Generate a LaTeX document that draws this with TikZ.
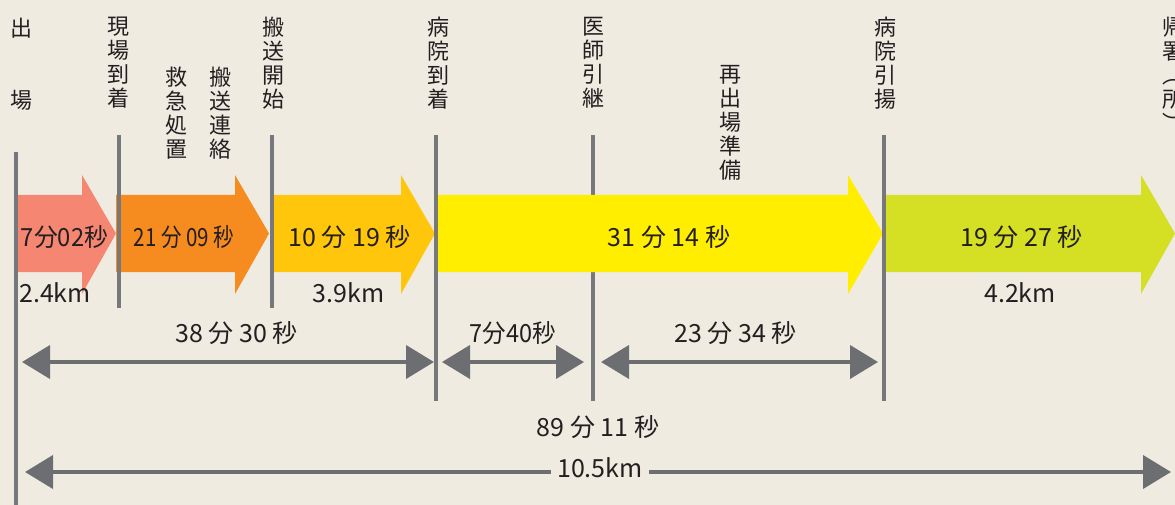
\documentclass[tikz,border=0pt]{standalone}
\usepackage{fontspec}
\setmainfont{Noto Sans CJK JP}
\usetikzlibrary{arrows.meta}
\definecolor{bgc}{HTML}{EFEBE1}
\definecolor{salmon}{HTML}{F48672}
\definecolor{orangeA}{HTML}{F68B1F}
\definecolor{amber}{HTML}{FFC60B}
\definecolor{yellowA}{HTML}{FFEE00}
\definecolor{limeA}{HTML}{D5DF23}
\definecolor{tickgray}{HTML}{77787B}
\definecolor{dimgray}{HTML}{6D6E71}
\definecolor{txt}{HTML}{231F20}
\tikzset{
  tick/.style={line width=3.5pt, draw=tickgray},
  dimline/.style={line width=4pt, draw=dimgray, -{Triangle[length=28pt,width=33pt]}},
  dimboth/.style={line width=4pt, draw=dimgray, {Triangle[length=28pt,width=33pt]}-{Triangle[length=28pt,width=33pt]}},
  vlabel/.style={inner sep=0pt, anchor=north, align=center, text=txt, font=\fontsize{22}{24}\selectfont},
  tlabel/.style={inner sep=0pt, text=txt, font=\fontsize{25}{28}\selectfont},
}
\newcommand{\blockarrow}[4]{%
  \fill[#4] (#1,195) -- (#2,195) -- (#2,175) -- (#3,233.5) -- (#2,294) -- (#2,272) -- (#1,272) -- cycle;}
\begin{document}
\begin{tikzpicture}[x=1pt,y=-1pt]
\useasboundingbox (0,0) rectangle (1175,505);
\fill[bgc] (0,0) rectangle (1175,505);

% tick coordinates
\coordinate (t0a) at (16,152);  \coordinate (t0b) at (16,505);
\coordinate (t1a) at (119,135); \coordinate (t1b) at (119,308);
\coordinate (t2a) at (272,135); \coordinate (t2b) at (272,308);
\coordinate (t3a) at (436,135); \coordinate (t3b) at (436,401);
\coordinate (t4a) at (593,135); \coordinate (t4b) at (593,401);
\coordinate (t5a) at (884,135); \coordinate (t5b) at (884,401);

% tick under the yellow arrow
\draw[tick] (t4a) -- (t4b);

% block arrows
\blockarrow{16}{82}{116}{salmon}
\blockarrow{116}{235}{269}{orangeA}
\blockarrow{270}{401}{435}{amber}
\blockarrow{437}{848}{883}{yellowA}
\blockarrow{885}{1141}{1175}{limeA}

% ticks on top
\draw[tick] (t0a) -- (t0b);
\draw[tick] (t1a) -- (t1b);
\draw[tick] (t2a) -- (t2b);
\draw[tick] (t3a) -- (t3b);
\draw[tick] (t5a) -- (t5b);

% top labels
\node[vlabel] (l0a) at (21,18) {出};
\node[vlabel] (l0b) at (21,90) {場};
\node[vlabel] (l1) at (118,17) {現\\場\\到\\着};
\node[vlabel] (l1b) at (176,67) {救\\急\\処\\置};
\node[vlabel] (l1c) at (220,67) {搬\\送\\連\\絡};
\node[vlabel] (l2) at (273,17) {搬\\送\\開\\始};
\node[vlabel] (l3) at (438,17) {病\\院\\到\\着};
\node[vlabel] (l4) at (593,17) {医\\師\\引\\継};
\node[vlabel] (l4b) at (730,65) {再\\出\\場\\準\\備};
\node[vlabel] (l5) at (885,17) {病\\院\\引\\揚};
\node[vlabel] (l6) at (1173,17) {帰\\署\\︵\\所\\︶};

% arrow labels
\node[tlabel] (a1) at (64.5,237) {\scalebox{0.95}[1]{7分02秒}};
\node[tlabel] (a2) at (184,237) {\scalebox{0.82}[1]{21 分 09 秒}};
\node[tlabel] (a3) at (349.5,237) {10 分 19 秒};
\node[tlabel] (a4) at (669,237) {31 分 14 秒};
\node[tlabel] (a5) at (1021.5,237) {19 分 27 秒};

% distances
\node[tlabel] (k1) at (55,293) {2.4km};
\node[tlabel] (k2) at (348.5,293) {3.9km};
\node[tlabel] (k3) at (1020,293) {4.2km};

% durations
\coordinate (d1a) at (22,362);  \coordinate (d1b) at (434,362);
\coordinate (d2a) at (442,362); \coordinate (d2b) at (584,362);
\coordinate (d3a) at (601,362); \coordinate (d3b) at (878,362);
\draw[dimboth] (d1a) -- (d1b);
\draw[dimboth] (d2a) -- (d2b);
\draw[dimboth] (d3a) -- (d3b);
\node[tlabel] (m1) at (236.5,333) {38 分 30 秒};
\node[tlabel] (m2) at (513,333) {\scalebox{0.94}[1]{7分40秒}};
\node[tlabel] (m3) at (735.5,333) {23 分 34 秒};
\node[tlabel] (m4) at (598,427) {89 分 11 秒};

% total distance
\coordinate (e1) at (25,472);
\coordinate (e2) at (1171,472);
\node[tlabel, outer sep=6pt] (tot) at (600,468) {10.5km};
\draw[dimline] (tot.west |- e1) -- (e1);
\draw[dimline] (tot.east |- e2) -- (e2);
\end{tikzpicture}
\end{document}
